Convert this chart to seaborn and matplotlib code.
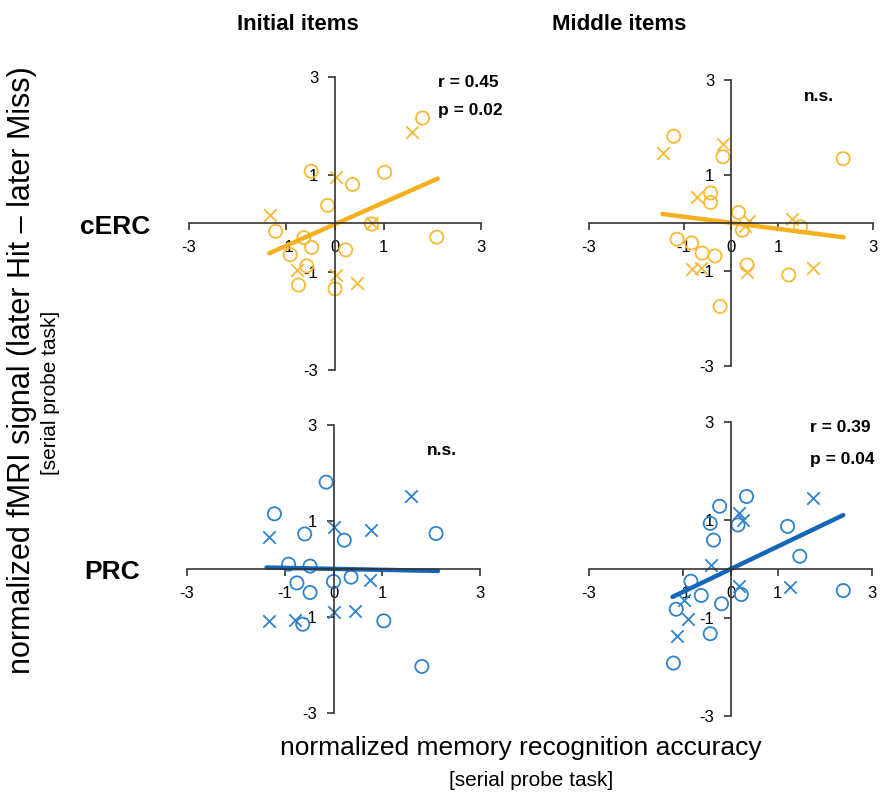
import numpy as np
import pandas as pd
import matplotlib.pyplot as plt
import seaborn as sns

# values (x = recognition accuracy, y = fMRI signal)
# cERC / initial items
cerc_init_o_x = [1.80, 1.02, -0.49, 0.36, -0.15, -1.22, -0.64, -0.48, -0.92, 0.22, -0.58, -0.75, 0.00, 2.09, 0.75]
cerc_init_o_y = [2.16, 1.05, 1.07, 0.80, 0.37, -0.16, -0.29, -0.49, -0.64, -0.54, -0.87, -1.26, -1.34, -0.28, -0.01]
cerc_init_x_x = [1.59, 0.02, -1.34, 0.75, -0.78, 0.03, 0.45]
cerc_init_x_y = [1.87, 0.96, 0.17, 0.00, -0.96, -1.06, -1.22]
cerc_init_fit_x = [-1.35, 2.11]
cerc_init_fit_y = [-0.61, 0.92]

# cERC / middle items
cerc_mid_o_x = [-1.21, -0.17, 2.37, -0.43, -0.43, 0.16, 0.24, 1.47, -1.14, -0.83, -0.61, -0.34, 0.34, 1.22, -0.23]
cerc_mid_o_y = [1.82, 1.39, 1.35, 0.63, 0.43, 0.22, -0.15, -0.08, -0.34, -0.42, -0.63, -0.69, -0.88, -1.09, -1.75]
cerc_mid_x_x = [-1.44, -0.17, -0.72, 0.38, 0.30, 1.29, -0.83, -0.64, 0.34, 1.74]
cerc_mid_x_y = [1.47, 1.66, 0.54, 0.05, -0.07, 0.08, -0.97, -0.95, -1.02, -0.95]
cerc_mid_fit_x = [-1.45, 2.38]
cerc_mid_fit_y = [0.19, -0.30]

# PRC / initial items
prc_init_o_x = [-0.15, -1.21, -0.59, 0.22, 2.10, -0.92, -0.48, -0.75, -0.48, 0.00, 0.36, -0.63, 1.03, 1.81]
prc_init_o_y = [1.81, 1.15, 0.73, 0.60, 0.74, 0.10, 0.06, -0.29, -0.49, -0.26, -0.17, -1.15, -1.08, -2.03]
prc_init_x_x = [1.59, 0.02, 0.77, -1.33, 0.75, 0.02, 0.44, -1.33, -0.79]
prc_init_x_y = [1.53, 0.87, 0.82, 0.66, -0.23, -0.90, -0.87, -1.08, -1.06]
prc_init_fit_x = [-1.37, 2.14]
prc_init_fit_y = [0.03, -0.04]

# PRC / middle items
prc_mid_o_x = [0.34, -0.23, -0.43, 0.16, -0.36, 1.21, 1.47, -0.84, -0.62, 0.23, -0.19, -1.15, -0.43, -1.21, 2.39]
prc_mid_o_y = [1.48, 1.28, 0.93, 0.90, 0.59, 0.87, 0.26, -0.25, -0.54, -0.52, -0.71, -0.82, -1.32, -1.92, -0.44]
prc_mid_x_x = [1.75, 0.19, 0.26, -0.41, 0.19, 1.26, -0.98, -0.91, -1.13]
prc_mid_x_y = [1.45, 1.14, 0.99, 0.09, -0.35, -0.37, -0.63, -1.02, -1.37]
prc_mid_fit_x = [-1.23, 2.39]
prc_mid_fit_y = [-0.57, 1.10]

col_titles = ['Initial items', 'Middle items']
row_titles = ['cERC', 'PRC']
# (r text, p text) or n.s.
stats = [[('r = 0.45', 'p = 0.02'), ('n.s.',)], [('n.s.',), ('r = 0.39', 'p = 0.04')]]

ORANGE, ORANGE_LINE = '#F7BA36', '#F5B01E'
BLUE, BLUE_LINE = '#2F82CC', '#1565B8'

sns.set_style('white')
plt.rcParams['font.family'] = ['Liberation Sans', 'DejaVu Sans']
plt.rcParams['text.color'] = 'black'

W, H = 880, 792
fig = plt.figure(figsize=(W / 100, H / 100), dpi=100)

# axes boxes in pixels: left, right, top, bottom
boxes = [[(189, 481, 77, 370), (589, 873, 80, 366)],
         [(187, 480, 425, 713), (589, 872, 422, 716)]]

panels = [
    [(cerc_init_o_x, cerc_init_o_y, cerc_init_x_x, cerc_init_x_y, cerc_init_fit_x, cerc_init_fit_y),
     (cerc_mid_o_x, cerc_mid_o_y, cerc_mid_x_x, cerc_mid_x_y, cerc_mid_fit_x, cerc_mid_fit_y)],
    [(prc_init_o_x, prc_init_o_y, prc_init_x_x, prc_init_x_y, prc_init_fit_x, prc_init_fit_y),
     (prc_mid_o_x, prc_mid_o_y, prc_mid_x_x, prc_mid_x_y, prc_mid_fit_x, prc_mid_fit_y)],
]
# text anchor in data units: x, y of first line, y of second line
stat_pos = [[(2.12, 2.88, 2.31), (1.85, 2.65, None)],
            [(2.23, 2.47, None), (1.68, 2.88, 2.24)]]

for r in range(2):
    c_mark, c_line = (ORANGE, ORANGE_LINE) if r == 0 else (BLUE, BLUE_LINE)
    for c in range(2):
        l, rr, t, b = boxes[r][c]
        ax = fig.add_axes([l / W, 1 - b / H, (rr - l) / W, (b - t) / H])
        ox, oy, xx, xy, fx, fy = panels[r][c]

        sns.scatterplot(x=ox, y=oy, ax=ax, marker='o', s=90, facecolor='none',
                        edgecolor=c_mark, linewidth=1.3)
        sns.scatterplot(x=xx, y=xy, ax=ax, marker='x', s=80, color=c_mark,
                        linewidth=1.3)
        sns.lineplot(x=fx, y=fy, ax=ax, color=c_line, linewidth=3.2)

        ax.set_xlim(-3, 3)
        ax.set_ylim(-3, 3)
        ax.spines['left'].set_position(('data', 0))
        ax.spines['bottom'].set_position(('data', 0))
        ax.spines['top'].set_visible(False)
        ax.spines['right'].set_visible(False)
        for s in ['left', 'bottom']:
            ax.spines[s].set_color('#333333')
            ax.spines[s].set_linewidth(1.2)
        ax.set_xticks([-3, -1, 0, 1, 3])
        ax.set_xticklabels(['-3', '-1', '0', '1', '3'])
        ax.set_yticks([-3, -1, 1, 3])
        ax.set_yticklabels(['-3', '-1', '1', '3'])
        ax.tick_params(direction='out', length=5, width=1.2, color='#333333',
                       labelsize=12, labelcolor='black', pad=7, bottom=True, left=True)
        ax.patch.set_alpha(0)

        sx, sy1, sy2 = stat_pos[r][c]
        txt = stats[r][c]
        if len(txt) == 2:
            ax.text(sx, sy1, txt[0], ha='left', va='center', fontsize=12.5, fontweight='bold')
            ax.text(sx, sy2, txt[1], ha='left', va='center', fontsize=12.5, fontweight='bold')
        else:
            ax.text(sx, sy1, txt[0], ha='center', va='center', fontsize=12.5, fontweight='bold')

# column and row headers
fig.text(298 / W, 1 - 24 / H, col_titles[0], ha='center', va='center',
         fontsize=16, fontweight='bold')
fig.text(619 / W, 1 - 24 / H, col_titles[1], ha='center', va='center',
         fontsize=16, fontweight='bold')
fig.text(115 / W, 1 - 227 / H, row_titles[0], ha='center', va='center',
         fontsize=19, fontweight='bold')
fig.text(112 / W, 1 - 572 / H, row_titles[1], ha='center', va='center',
         fontsize=19, fontweight='bold')

# shared axis labels
fig.text(22 / W, 1 - 370 / H, 'normalized fMRI signal (later Hit \u2013 later Miss)',
         rotation=90, ha='center', va='center', fontsize=22)
fig.text(51 / W, 1 - 393 / H, '[serial probe task]', rotation=90,
         ha='center', va='center', fontsize=15)
fig.text(521 / W, 1 - 748 / H, 'normalized memory recognition accuracy',
         ha='center', va='center', fontsize=19)
fig.text(531 / W, 1 - 781 / H, '[serial probe task]', ha='center', va='center',
         fontsize=15)

plt.savefig('out.png', dpi=100)
